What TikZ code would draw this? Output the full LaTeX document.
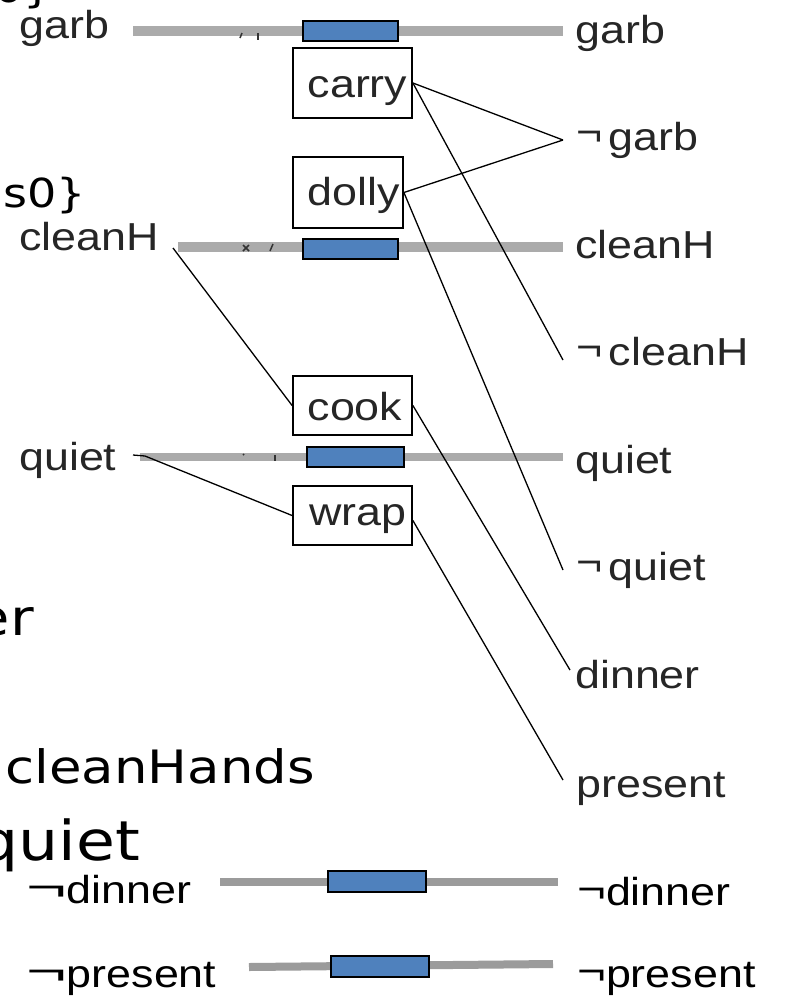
\documentclass[tikz,border=0pt]{standalone}
\usepackage{fontspec}
\usepackage{graphicx}
\setmainfont{Liberation Sans}
\newfontfamily\labfont{Liberation Sans}[FakeStretch=1.15]
\newfontfamily\ovfont{DejaVu Sans}[FakeStretch=1.15]
\definecolor{barA}{HTML}{ABABAB}
\definecolor{barB}{HTML}{9B9B9B}
\definecolor{actblue}{HTML}{4F81BD}
\newcommand{\upnot}{\raisebox{5pt}{¬}}
\newcommand{\lownot}{\raisebox{3pt}{\scalebox{1.55}[1]{¬}}}
\newcommand{\rnot}{\raisebox{3pt}{\scalebox{1.1}[1]{¬}}}
\begin{document}
\begin{tikzpicture}[x=1pt,y=-1pt,
  lab/.style={font=\labfont\fontsize{39}{39}\selectfont, inner sep=0pt, anchor=base west, text=black!85},
  blab/.style={lab, text=black},
  ovA/.style={font=\ovfont\fontsize{40}{40}\selectfont, inner sep=0pt, anchor=base east, text=black},
  ovB/.style={font=\ovfont\fontsize{#1}{#1}\selectfont, inner sep=0pt, anchor=base east, text=black},
  barU/.style={draw=barA, line width=#1},
  barL/.style={draw=barB, line width=8pt},
  act/.style={draw=black, fill=actblue, line width=2.5pt},
  opbox/.style={draw=black, line width=1.8pt, inner sep=0pt, text depth=0pt,
    font=\labfont\fontsize{39}{39}\selectfont, text=black!85},
  conn/.style={draw=black, line width=1.3pt},
  speck/.style={draw=black!80, line width=1.5pt}
]
\fill[white] (0,0) rectangle (792,997);
\useasboundingbox (0,0) rectangle (792,997);

% overlay text fragments
\node[ovA] (frag0) at (53,2) {0\}};
\node[ovA] (fragS) at (86,207) {s0\}};
\node[ovB=50] (fragER) at (34,635) {er};
\node[ovB=46] (fragCH) at (315,783) {cleanHands};
\node[ovB=55] (fragQ) at (140,860) {quiet};

% gray bars
\draw[barU=10pt] (133,31) coordinate (g0) -- (563,31) coordinate (g1);
\draw[barU=10pt] (178,247) coordinate (c0) -- (563,247) coordinate (c1);
\draw[barU=8pt] (140,457) coordinate (q0) -- (563,457) coordinate (q1);
\draw[barL] (220,882) coordinate (d0) -- (558,882) coordinate (d1);
\draw[barL] (249,967) coordinate (p0) -- (553,964) coordinate (p1);

% small specks on bars
\draw[speck] (240,38) -- (242,33);
\draw[speck] (258,33) -- (258,40);
\draw[speck] (243,245) -- (249,251);
\draw[speck] (249,245) -- (243,251);
\draw[speck] (273,244) -- (270,251);
\draw[speck] (243,454) -- (244,455);
\draw[speck] (275,455) -- (275,461);

% blue action bars
\draw[act] (303,21) rectangle (398,41);
\draw[act] (303,239) rectangle (398,259);
\draw[act] (307,447) rectangle (404,467);
\draw[act] (328,871) rectangle (426,892);
\draw[act] (331,956) rectangle (429,977);

% operator boxes
\node[opbox, minimum width=119pt, minimum height=70pt, text height=28pt] (carry) at (352.5,83) {\hspace*{10pt}carry};
\node[opbox, minimum width=110pt, minimum height=71pt, text height=25pt] (dolly) at (348,192.5) {\hspace*{12pt}dolly};
\node[opbox, minimum width=119pt, minimum height=59pt, text height=29pt] (cook) at (352.5,405.5) {\hspace*{5pt}cook};
\node[opbox, minimum width=119pt, minimum height=59pt, text height=19pt] (wrap) at (352.5,515.5) {\hspace*{11pt}wrap};

% left labels
\node[lab] (garbL) at (19,38) {garb};
\node[lab] (cleanHL) at (19,250) {cleanH};
\node[lab] (quietL) at (19,470) {quiet};
\node[blab] (ndinnerL) at (26,903) {\lownot dinner};
\node[blab] (npresentL) at (26,987) {\lownot present};

% right labels
\node[lab] (garbR) at (575,43) {garb};
\node[lab] (ngarbR) at (576,150) {\upnot\,garb};
\node[lab] (cleanHR) at (575,258) {cleanH};
\node[lab] (ncleanHR) at (576,365) {\upnot\,cleanH};
\node[lab] (quietR) at (575,473) {quiet};
\node[lab] (nquietR) at (576,580) {\upnot\,quiet};
\node[lab] (dinnerR) at (575,688) {dinner};
\node[lab] (presentR) at (576,797) {present};
\node[blab] (ndinnerR) at (577,905) {\rnot dinner};
\node[blab] (npresentR) at (577,987) {\rnot present};

% connector end points
\coordinate (ngarbP) at (563,140);
\coordinate (ncleanHP) at (563,360);
\coordinate (nquietP) at (563,570);
\coordinate (dinnerP) at (570,670);
\coordinate (presentP) at (563,780);
\coordinate (cleanHo) at (173,248);
\coordinate (quieto) at (133,455);
\coordinate (quietk) at (145,456);

% connectors
\draw[conn] (carry.east) -- (ngarbP);
\draw[conn] (dolly.east) -- (ngarbP);
\draw[conn] (carry.east) -- (ncleanHP);
\draw[conn] (dolly.east) -- (nquietP);
\draw[conn] (cook.east) -- (dinnerP);
\draw[conn] ([yshift=-5pt]wrap.east) -- (presentP);
\draw[conn] (cleanHo) -- (cook.west);
\draw[conn] (quieto) -- (quietk) -- (wrap.west);
\end{tikzpicture}
\end{document}
